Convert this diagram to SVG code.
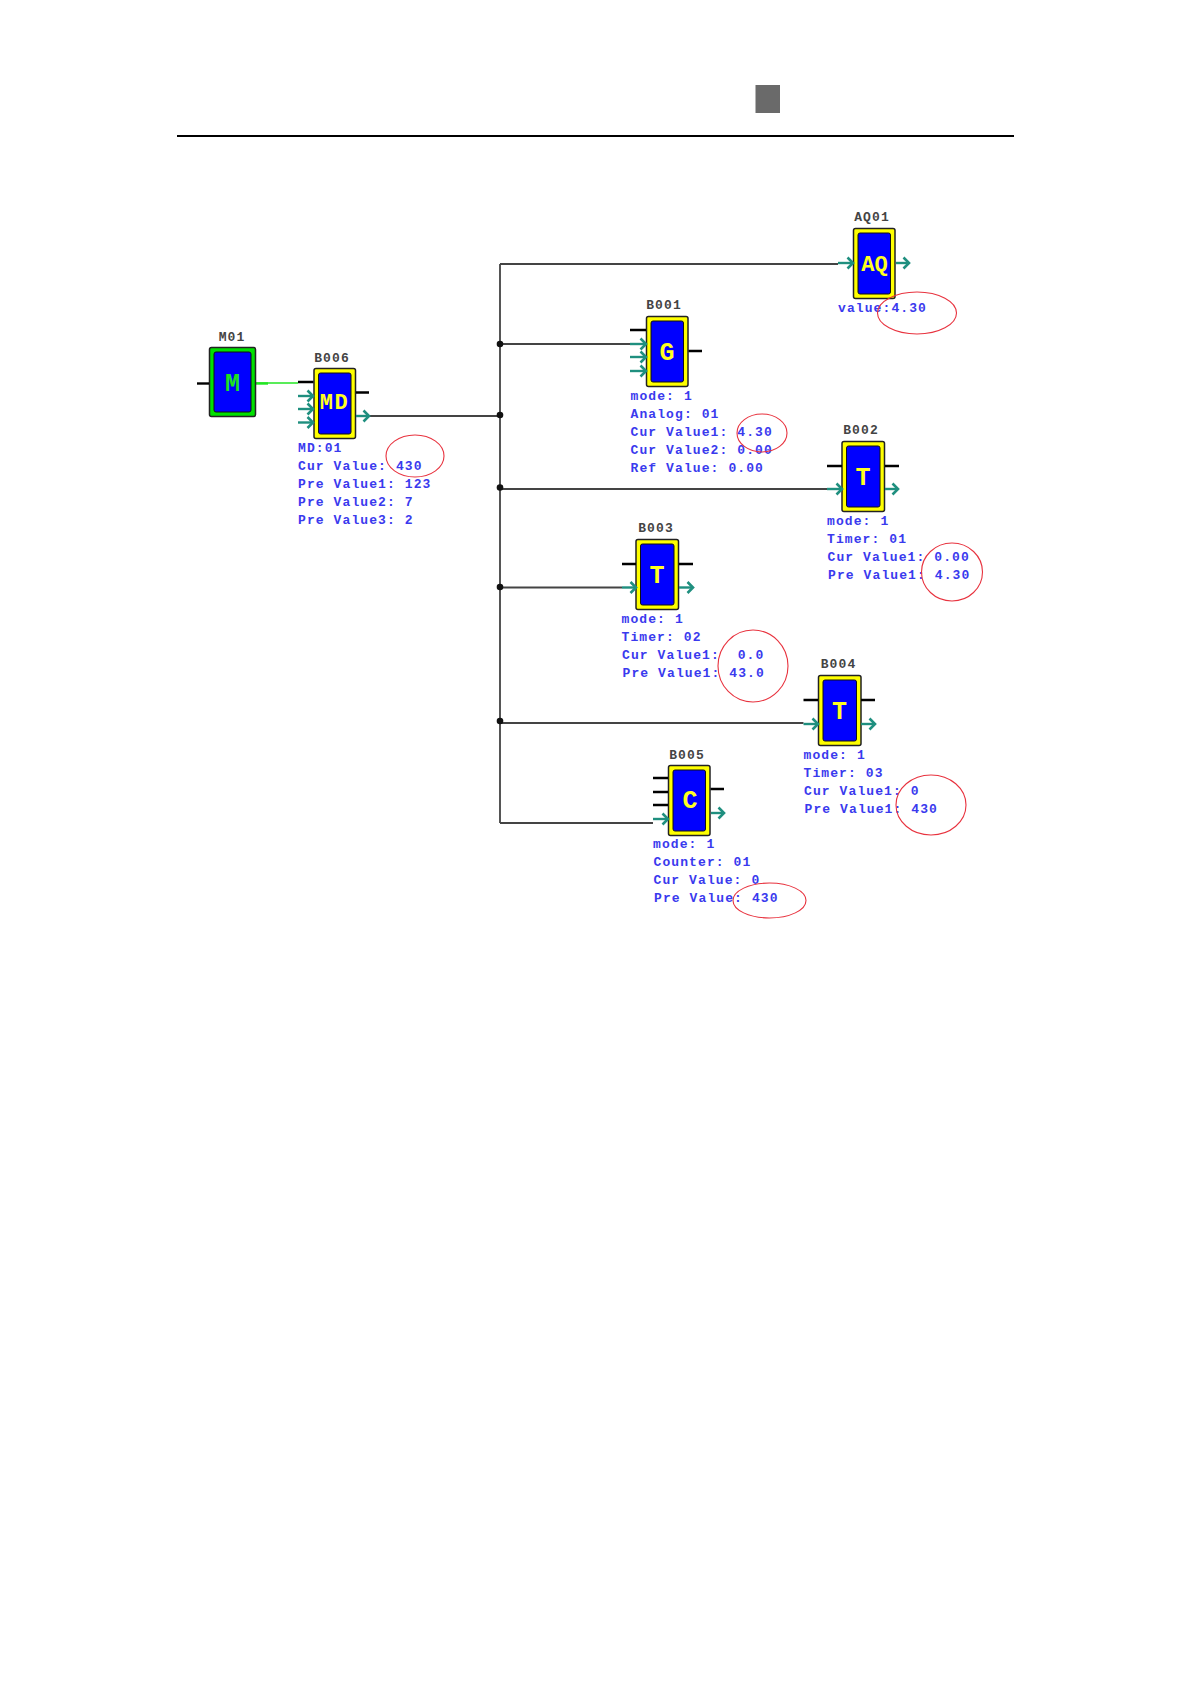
<svg xmlns="http://www.w3.org/2000/svg" width="1191" height="1684" viewBox="0 0 1191 1684">
<style>
.box{fill:#ffff00;stroke:#222;stroke-width:1.5}
.boxg{fill:#00e000;stroke:#222;stroke-width:1.5}
.in{fill:#0000ff;stroke:#111;stroke-width:1}
.g{font-family:"Liberation Mono",monospace;font-weight:700;font-size:25px;fill:#ffff20;text-anchor:middle}
.g2{font-size:22px}
.n{font-family:"Liberation Mono",monospace;font-weight:700;font-size:13px;letter-spacing:1.1px;fill:#444;text-anchor:middle}
.t{font-family:"Liberation Mono",monospace;font-weight:700;font-size:13px;letter-spacing:1.1px;fill:#3a3aee;white-space:pre}
.p{stroke:#000;stroke-width:2.4;fill:none}
.a{stroke:#1f8f7f;stroke-width:2.4;fill:none;marker-end:url(#arr)}
.w{stroke:#444;stroke-width:1.8;fill:none}
.e{fill:none;stroke:#e8333f;stroke-width:1.1}
.d{fill:#111}
</style>
<defs>
<marker id="arr" markerUnits="userSpaceOnUse" markerWidth="10" markerHeight="14" refX="8.5" refY="7" orient="auto">
<path d="M3 1.500L8.500 7L3 12.500" fill="none" stroke="#1f8f7f" stroke-width="2.600"/>
</marker>
</defs>
<rect id="marker-block" x="755.500" y="85" width="24.500" height="28" fill="#6a6a6a"/>
<rect id="rule" x="177" y="135" width="837" height="2" fill="#000"/>
<g id="connectors">
<path class="w" d="M500 264V823M500 264H838M500 344H630M369 416H500M500 489H827M500 587.500H622M500 723H803.500M500 823H653"/>
<path d="M256 383H298" stroke="#22e622" stroke-width="1.600" fill="none"/>
<path d="M256 383.500H268" stroke="#22e622" stroke-width="2.400" fill="none"/>
<circle class="d" cx="500" cy="344" r="3.300"/><circle class="d" cx="500" cy="415" r="3.300"/><circle class="d" cx="500" cy="487.500" r="3.300"/><circle class="d" cx="500" cy="587" r="3.300"/><circle class="d" cx="500" cy="721" r="3.300"/>
</g>
<g id="M01">
<text class="n" x="232" y="340.500">M01</text>
<rect class="boxg" x="209.500" y="347.500" width="46" height="69" rx="2"/><rect class="in" x="214" y="352" width="37" height="60" rx="2"/>
<text class="g" x="232.500" y="391" style="fill:#1ee01e">M</text>
<path class="p" d="M197 383.500H209"/>
</g>
<g id="B006">
<text class="n" x="332" y="361.500">B006</text>
<rect class="box" x="314" y="368.500" width="41.500" height="70" rx="2"/><rect class="in" x="318.500" y="373" width="32.500" height="61" rx="2"/>
<text class="g g2" x="334.500" y="409" style="letter-spacing:1.5px">MD</text>
<path class="p" d="M298 382H313.500M356 392.500H369"/>
<path class="a" d="M298 396H313"/><path class="a" d="M298 409H313"/><path class="a" d="M298 422.500H313"/><path class="a" d="M356 416H369"/>
<text class="t" x="298" y="452">MD:01</text><text class="t" x="298" y="470">Cur Value: 430</text><text class="t" x="298" y="488">Pre Value1: 123</text><text class="t" x="298" y="506">Pre Value2: 7</text><text class="t" x="298" y="524">Pre Value3: 2</text>
<ellipse class="e" cx="415" cy="456" rx="29" ry="21"/>
</g>
<g id="AQ01">
<text class="n" x="872" y="221">AQ01</text>
<rect class="box" x="853.500" y="228.500" width="41.500" height="70" rx="2"/><rect class="in" x="858" y="233" width="32.500" height="61" rx="2"/>
<text class="g g2" x="874.500" y="270.500">AQ</text>
<path class="a" d="M838 263H853"/><path class="a" d="M896 263H909"/>
<text class="t" x="838" y="312">value:4.30</text>
<ellipse class="e" cx="917" cy="313" rx="39.500" ry="21"/>
</g>
<g id="B001">
<text class="n" x="664" y="309">B001</text>
<rect class="box" x="646.500" y="316.500" width="41.500" height="70" rx="2"/><rect class="in" x="651" y="321" width="32.500" height="61" rx="2"/>
<text class="g" x="667" y="360">G</text>
<path class="p" d="M630 330H646M688.500 351H702"/>
<path class="a" d="M630 344H646"/><path class="a" d="M630 357H646"/><path class="a" d="M630 371H646"/>
<text class="t" x="630.500" y="400">mode: 1</text><text class="t" x="630.500" y="418">Analog: 01</text><text class="t" x="630.500" y="436">Cur Value1: 4.30</text><text class="t" x="630.500" y="454">Cur Value2: 0.00</text><text class="t" x="630.500" y="472">Ref Value: 0.00</text>
<ellipse class="e" cx="762" cy="433" rx="25" ry="19"/>
</g>
<g id="B002">
<text class="n" x="861" y="434">B002</text>
<rect class="box" x="842" y="441.500" width="42.500" height="70" rx="2"/><rect class="in" x="846.500" y="446" width="33.500" height="61" rx="2"/>
<text class="g" x="863" y="485">T</text>
<path class="p" d="M827 466H842M885 466H899"/>
<path class="a" d="M827 489H842"/><path class="a" d="M885 489H898"/>
<text class="t" x="827" y="525">mode: 1</text><text class="t" x="827" y="543">Timer: 01</text><text class="t" x="827.500" y="561">Cur Value1: 0.00</text><text class="t" x="828" y="579">Pre Value1: 4.30</text>
<ellipse class="e" cx="952" cy="572" rx="30.500" ry="29"/>
</g>
<g id="B003">
<text class="n" x="656" y="532">B003</text>
<rect class="box" x="636" y="539.500" width="42.500" height="70" rx="2"/><rect class="in" x="640.500" y="544" width="33.500" height="61" rx="2"/>
<text class="g" x="657" y="583">T</text>
<path class="p" d="M622 564H636M679 564H693"/>
<path class="a" d="M622 587.500H636"/><path class="a" d="M679 587.500H693"/>
<text class="t" x="621.500" y="623">mode: 1</text><text class="t" x="621.500" y="641">Timer: 02</text><text class="t" x="622" y="659">Cur Value1:  0.0</text><text class="t" x="622.500" y="677">Pre Value1: 43.0</text>
<ellipse class="e" cx="753" cy="666" rx="35" ry="36"/>
</g>
<g id="B004">
<text class="n" x="838.500" y="668">B004</text>
<rect class="box" x="818.500" y="675.500" width="42.500" height="70" rx="2"/><rect class="in" x="823" y="680" width="33.500" height="61" rx="2"/>
<text class="g" x="839.500" y="719">T</text>
<path class="p" d="M803.500 700H818M861 700H875"/>
<path class="a" d="M803.500 724H818"/><path class="a" d="M861 724H875"/>
<text class="t" x="803.500" y="759">mode: 1</text><text class="t" x="803.500" y="777">Timer: 03</text><text class="t" x="804" y="795">Cur Value1: 0</text><text class="t" x="804.500" y="813">Pre Value1: 430</text>
<ellipse class="e" cx="931" cy="805" rx="35" ry="30"/>
</g>
<g id="B005">
<text class="n" x="687" y="759">B005</text>
<rect class="box" x="668.500" y="765.500" width="41.500" height="70" rx="2"/><rect class="in" x="673" y="770" width="32.500" height="61" rx="2"/>
<text class="g" x="690" y="808">C</text>
<path class="p" d="M653 778H668M653 792H668M653 805H668M710.500 789H724"/>
<path class="a" d="M653 819H668"/><path class="a" d="M711 813H724"/>
<text class="t" x="653" y="848">mode: 1</text><text class="t" x="653.500" y="866">Counter: 01</text><text class="t" x="653.500" y="884">Cur Value: 0</text><text class="t" x="654" y="902">Pre Value: 430</text>
<ellipse class="e" cx="769.500" cy="900.500" rx="36.500" ry="17.500"/>
</g>
</svg>
